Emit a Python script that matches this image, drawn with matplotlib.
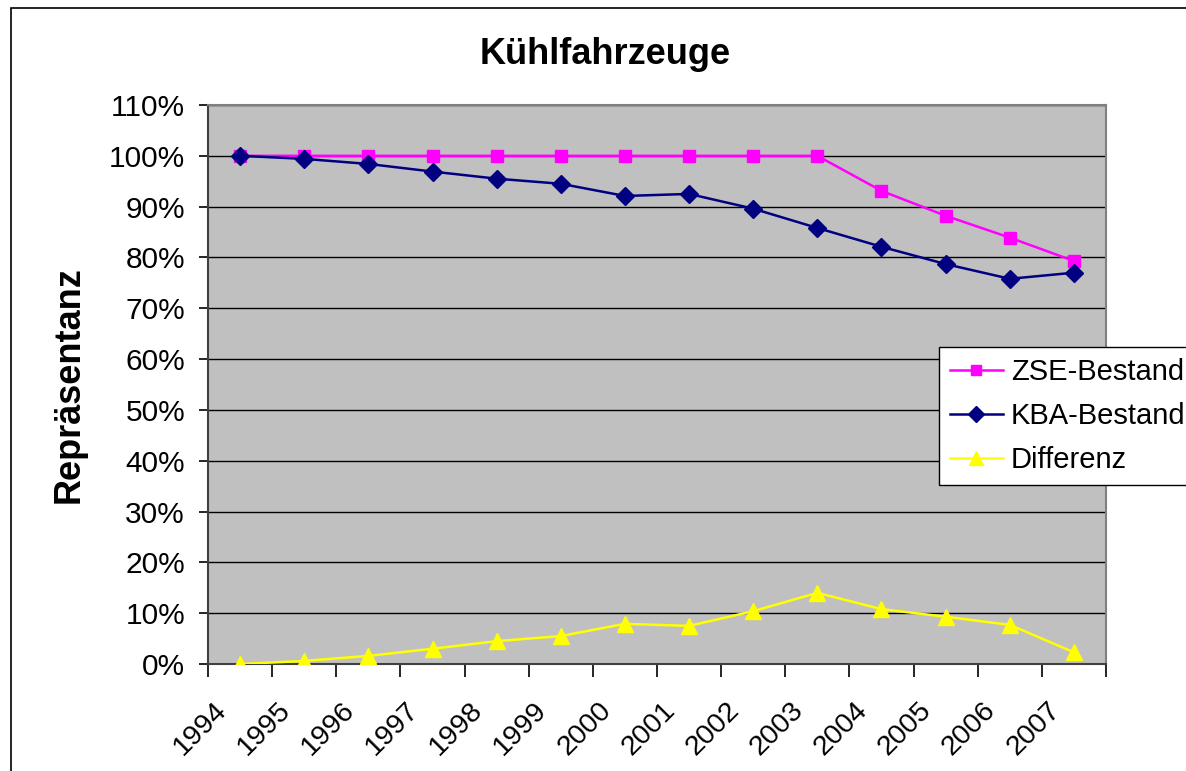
import matplotlib
matplotlib.use("Agg")
import matplotlib.pyplot as plt
from matplotlib.patches import Rectangle
from matplotlib.ticker import FixedLocator, FuncFormatter, NullFormatter
from matplotlib.transforms import ScaledTranslation

plt.rcParams['font.family'] = ['Liberation Sans', 'DejaVu Sans']

# data (percent)
years = ['1994', '1995', '1996', '1997', '1998', '1999', '2000',
         '2001', '2002', '2003', '2004', '2005', '2006', '2007']
zse = [100, 100, 100, 100, 100, 100, 100, 100, 100, 100, 93.1, 88.2, 83.9, 79.3]
kba = [100, 99.4, 98.4, 96.9, 95.5, 94.5, 92.1, 92.5, 89.6, 85.8, 82.1, 78.7, 75.8, 77.0]
diff = [0.0, 0.6, 1.6, 3.0, 4.5, 5.5, 7.9, 7.5, 10.4, 14.0, 10.8, 9.3, 7.7, 2.3]

W, H = 1186, 771
fig = plt.figure(figsize=(W / 100, H / 100), dpi=100)
fig.patch.set_facecolor('white')

# outer chart border (only left and top visible in the crop)
fig.patches.append(Rectangle((11 / W, -0.05), 1.2, 1 - 8 / H + 0.05,
                             transform=fig.transFigure, fill=False,
                             edgecolor='black', linewidth=1.2))

ax = fig.add_axes([208 / W, 1 - 664 / H, (1106 - 208) / W, (664 - 105) / H])
ax.set_facecolor('#C0C0C0')

x = list(range(len(years)))
ax.plot(x, zse, color='#FF00FF', lw=1.8, marker='s', ms=8.5, label='ZSE-Bestand', zorder=3)
ax.plot(x, kba, color='#000080', lw=1.8, marker='D', ms=9.5, label='KBA-Bestand', zorder=3)
ax.plot(x, diff, color='#FFFF00', lw=1.8, marker='^', ms=11, label='Differenz', zorder=3)

ax.set_xlim(-0.5, len(years) - 0.5)
ax.set_ylim(0, 110)
ax.set_yticks(range(0, 111, 10))
ax.yaxis.set_major_formatter(FuncFormatter(lambda v, p: f'{int(v)}%'))
ax.grid(axis='y', color='black', lw=1)
ax.set_axisbelow(True)

# category labels: rotated, top-right corner just left of the category centre
ax.set_xticks(x)
ax.xaxis.set_major_formatter(NullFormatter())
off = ScaledTranslation(-27 / 100, -33 / 100, fig.dpi_scale_trans)
for i, yr in enumerate(years):
    ax.text(i, 0, yr, transform=ax.get_xaxis_transform() + off,
            rotation=45, ha='right', va='top', rotation_mode='anchor',
            fontsize=20.5)
ax.xaxis.set_minor_locator(FixedLocator([i - 0.5 for i in range(len(years) + 1)]))
ax.tick_params(axis='x', which='major', length=0)
ax.tick_params(axis='x', which='minor', length=9, width=1.2, color='black')
ax.tick_params(axis='y', length=6.5, width=1.2, pad=10, labelsize=21.5)

for side in ('top', 'right'):
    ax.spines[side].set_color('#808080')
    ax.spines[side].set_linewidth(1.5)
for side in ('left', 'bottom'):
    ax.spines[side].set_color('#404040')
    ax.spines[side].set_linewidth(1.5)

fig.text(605 / W, 1 - 55 / H, 'Kühlfahrzeuge', ha='center', va='center',
         fontsize=26, fontweight='bold')
fig.text(69 / W, 1 - 385 / H, 'Repräsentanz', ha='center', va='center',
         rotation=90, fontsize=26, fontweight='bold')

leg = fig.legend(loc='upper left', bbox_to_anchor=(939 / W, 1 - 347 / H),
                 bbox_transform=fig.transFigure, fontsize=21, frameon=True,
                 fancybox=False, edgecolor='black', framealpha=1,
                 handlelength=1.8, borderpad=0.38, labelspacing=0.55,
                 handletextpad=0.28, borderaxespad=0)
leg.get_frame().set_linewidth(1.0)
for h, ms in zip(leg.legend_handles, [7, 8, 9.5]):
    h.set_markersize(ms)

fig.savefig('out.png', dpi=100)
